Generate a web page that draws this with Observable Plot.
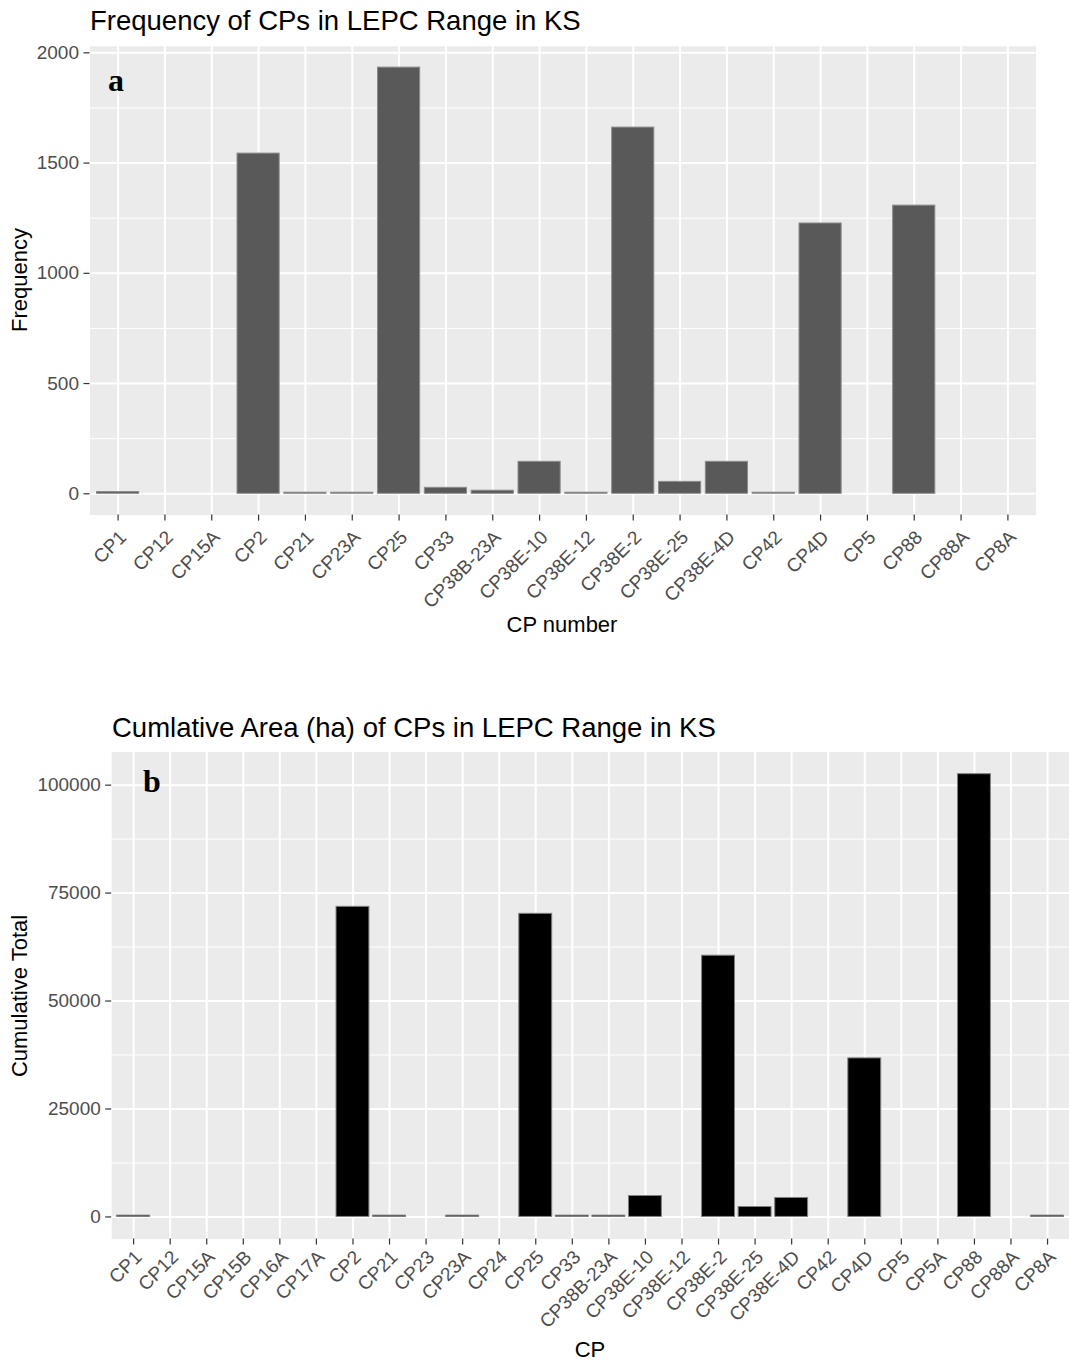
<!DOCTYPE html>
<html>
<head>
<meta charset="utf-8">
<script src="https://cdn.jsdelivr.net/npm/d3@7"></script>
<script src="https://cdn.jsdelivr.net/npm/@observablehq/plot@0.6"></script>
<style>
  html, body { margin: 0; padding: 0; background: #fff; }
  #page { position: relative; width: 1069px; height: 1363px; overflow: hidden; font-family: "Liberation Sans", Arial, sans-serif; }
  .abs { position: absolute; white-space: nowrap; line-height: 1; }
  .title { font-size: 27.5px; color: #000; }
  .axt { font-size: 22px; color: #000; }
  .tag { font-family: "Liberation Serif", "Times New Roman", serif; font-weight: bold; font-size: 32px; color: #000; }
  .chart { position: absolute; left: 0; }
</style>
</head>
<body>
<div id="page">
  <div class="abs title" style="left:90px; top:7px;">Frequency of CPs in LEPC Range in KS</div>
  <div class="abs axt" style="left:20px; top:280px; transform: translate(-50%,-50%) rotate(-90deg);">Frequency</div>
  <div class="abs axt" style="left:562px; top:625px; transform: translate(-50%,-50%);">CP number</div>
  <div class="abs title" style="left:112px; top:714px;">Cumlative Area (ha) of CPs in LEPC Range in KS</div>
  <div class="abs axt" style="left:20px; top:996px; transform: translate(-50%,-50%) rotate(-90deg);">Cumulative Total</div>
  <div class="abs axt" style="left:590px; top:1350px; transform: translate(-50%,-50%);">CP</div>
  <div id="c1" class="chart" style="top:0px;"></div>
  <div id="c2" class="chart" style="top:660px;"></div>
  <div class="abs tag" style="left:108px; top:64px;">a</div>
  <div class="abs tag" style="left:143px; top:765px;">b</div>
</div>
<script>
// ---- Panel a: Frequency ----
const cats1 = ["CP1","CP12","CP15A","CP2","CP21","CP23A","CP25","CP33","CP38B-23A","CP38E-10","CP38E-12","CP38E-2","CP38E-25","CP38E-4D","CP42","CP4D","CP5","CP88","CP88A","CP8A"];
const freq = [8, 0, 0, 1543, 5, 5, 1933, 27, 14, 145, 5, 1661, 54, 145, 5, 1226, 0, 1307, 0, 0];
const ticks1 = [0, 500, 1000, 1500, 2000];
const minor1 = [250, 750, 1250, 1750];

// ---- Panel b: Cumulative area ----
const cats2 = ["CP1","CP12","CP15A","CP15B","CP16A","CP17A","CP2","CP21","CP23","CP23A","CP24","CP25","CP33","CP38B-23A","CP38E-10","CP38E-12","CP38E-2","CP38E-25","CP38E-4D","CP42","CP4D","CP5","CP5A","CP88","CP88A","CP8A"];
const area = [300, 0, 0, 0, 0, 0, 71824, 300, 0, 300, 0, 70200, 300, 300, 4850, 0, 60500, 2300, 4390, 0, 36720, 0, 0, 102540, 0, 300];
const ticks2 = [0, 25000, 50000, 75000, 100000];
const minor2 = [12500, 37500, 62500, 87500];

function chart({cats, vals, ticks, minor, fill, stroke, width, height, marginLeft, marginRight, marginTop, marginBottom, labelPad}) {
  const data = cats.map((c, i) => ({cat: c, v: vals[i]}));
  const mx = d3.max(vals);
  return Plot.plot({
    width, height, marginLeft, marginRight, marginTop, marginBottom,
    style: {fontFamily: "'Liberation Sans', Arial, sans-serif", fontSize: "19px", background: "transparent", overflow: "visible"},
    x: {type: "band", domain: cats, paddingInner: 0.1, paddingOuter: 0.15, align: 0.5, round: false},
    y: {domain: [-0.05 * mx, 1.05 * mx]},
    marks: [
      Plot.frame({fill: "#EBEBEB", stroke: "none"}),
      Plot.gridY(minor, {stroke: "#fff", strokeOpacity: 1, strokeWidth: 1}),
      Plot.gridY(ticks, {stroke: "#fff", strokeOpacity: 1, strokeWidth: 2}),
      Plot.gridX(cats, {stroke: "#fff", strokeOpacity: 1, strokeWidth: 2}),
      Plot.barY(data.filter(d => d.v > 0), {x: "cat", y: "v", fill, stroke, strokeWidth: 1}),
      Plot.axisY(ticks, {tickFormat: d3.format("d"), tickSize: 6, tickPadding: 5, label: null, stroke: "#333", fill: "#4D4D4D", strokeWidth: 1.2}),
      Plot.axisX(cats, {tickSize: 6, tickFormat: null, label: null, stroke: "#333", strokeWidth: 1.2}),
      Plot.axisX(cats, {tickRotate: -45, tickSize: 0, tickPadding: labelPad, dx: 5, label: null, fill: "#4D4D4D"})
    ]
  });
}

document.getElementById("c1").append(chart({
  cats: cats1, vals: freq, ticks: ticks1, minor: minor1,
  fill: "#595959", stroke: "#8C8C8C",
  width: 1069, height: 660, marginLeft: 89.5, marginRight: 33.5, marginTop: 45.8, marginBottom: 145.4, labelPad: 19
}));
document.getElementById("c2").append(chart({
  cats: cats2, vals: area, ticks: ticks2, minor: minor2,
  fill: "#000000", stroke: "#808080",
  width: 1072, height: 703, marginLeft: 111.5, marginRight: 0, marginTop: 91.8, marginBottom: 122.8, labelPad: 15
}));
</script>
</body>
</html>
